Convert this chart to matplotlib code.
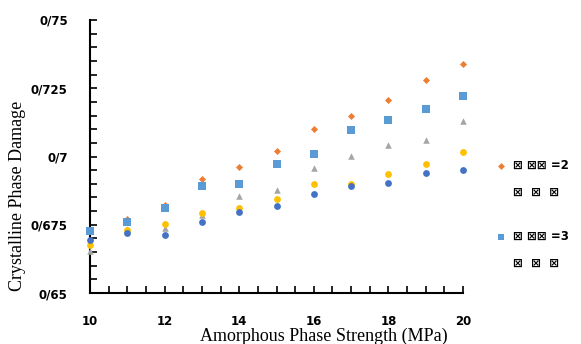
import matplotlib
matplotlib.use("Agg")
import matplotlib.pyplot as plt
from matplotlib.ticker import MultipleLocator
from matplotlib.lines import Line2D

strength = [10, 11, 12, 13, 14, 15, 16, 17, 18, 19, 20]
damage_orange = [0.6728, 0.6770, 0.6821, 0.6917, 0.6963, 0.7021, 0.7102, 0.7147, 0.7208, 0.7280, 0.7338]
damage_lightblue = [0.6728, 0.6760, 0.6810, 0.6892, 0.6900, 0.6974, 0.7008, 0.7097, 0.7134, 0.7174, 0.7223]
damage_gray = [0.6653, 0.6735, 0.6737, 0.6786, 0.6854, 0.6877, 0.6959, 0.7003, 0.7043, 0.7060, 0.7130]
damage_yellow = [0.6676, 0.6732, 0.6751, 0.6794, 0.6813, 0.6845, 0.6900, 0.6899, 0.6936, 0.6973, 0.7018]
damage_darkblue = [0.6693, 0.6720, 0.6711, 0.6759, 0.6796, 0.6819, 0.6862, 0.6891, 0.6903, 0.6940, 0.6950]
legend_line1 = ["\u22a0 \u22a0\u22a0 =2", "\u22a0 \u22a0\u22a0 =3"]
legend_line2 = ["\u22a0  \u22a0  \u22a0", "\u22a0  \u22a0  \u22a0"]
yticks = [0.65, 0.675, 0.7, 0.725, 0.75]
ytick_labels = ["0/65", "0/675", "0/7", "0/725", "0/75"]

fig = plt.figure(figsize=(5.81, 3.44), dpi=100)
ax = fig.add_axes([90/581, 1-293/344, (463-90)/581, (293-20)/344])

kw = dict(zorder=3, clip_on=False, linewidths=0)
ax.scatter(strength, damage_orange, marker='D', s=13, color='#ED7D31', **kw)
ax.scatter(strength, damage_lightblue, marker='s', s=30, color='#5B9BD5', **kw)
ax.scatter(strength, damage_gray, marker='^', s=22, color='#A5A5A5', **kw)
ax.scatter(strength, damage_yellow, marker='o', s=24, color='#FFC000', **kw)
ax.scatter(strength, damage_darkblue, marker='o', s=24, color='#4472C4', **kw)

ax.set_xlim(10, 20)
ax.set_ylim(0.65, 0.75)
ax.set_xticks([10, 12, 14, 16, 18, 20])
ax.xaxis.set_minor_locator(MultipleLocator(0.5))
ax.set_yticks(yticks)
ax.set_yticklabels(ytick_labels)
ax.yaxis.set_minor_locator(MultipleLocator(0.005))

for s in ['top', 'right']:
    ax.spines[s].set_visible(False)
for s in ['left', 'bottom']:
    ax.spines[s].set_linewidth(1.5)
    ax.spines[s].set_color('black')
    ax.spines[s].set_zorder(2)

ax.tick_params(axis='both', which='both', direction='in', color='black', width=1.2, length=5)
ax.tick_params(axis='y', which='major', pad=16)
ax.tick_params(axis='x', which='major', pad=16)
for lab in ax.get_xticklabels() + ax.get_yticklabels():
    lab.set_fontweight('bold')
    lab.set_fontsize(8.5)

fig.text(324/581, 1-341/344, "Amorphous Phase Strength (MPa)", family='Liberation Serif',
         fontsize=13, ha='center', va='baseline')
fig.text(18/581, 1-196/344, "Crystalline Phase Damage", family='Liberation Serif',
         fontsize=13, ha='center', va='center', rotation=90)

# legend (drawn manually to match layout)
leg_markers = [('D', '#ED7D31', 3.5), ('s', '#5B9BD5', 5)]
leg_y = [166, 237]
for (m, c, ms), y, l1, l2 in zip(leg_markers, leg_y, legend_line1, legend_line2):
    fig.add_artist(Line2D([500.5/581], [1-y/344], marker=m, color=c, markersize=ms,
                          linestyle='none', markeredgewidth=0, transform=fig.transFigure))
    fig.text(513/581, 1-(y-1)/344, l1, fontsize=8.5, fontweight='bold', ha='left', va='center')
    fig.text(513/581, 1-(y+26)/344, l2, fontsize=8.5, fontweight='bold', ha='left', va='center')

fig.savefig("out.png", dpi=100)
